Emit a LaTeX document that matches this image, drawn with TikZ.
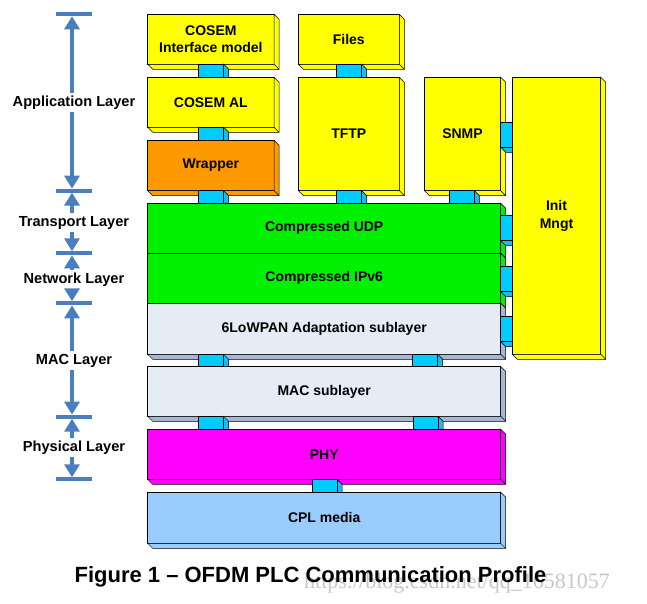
\documentclass[tikz,border=0pt]{standalone}
\usepackage{fontspec}
\setmainfont{Liberation Sans}
\newfontfamily\wmfont{Liberation Serif}
\usetikzlibrary{arrows.meta,calc}
\definecolor{cyel}{HTML}{FFFF00}
\definecolor{corange}{HTML}{FF9900}
\definecolor{cgreen}{HTML}{00F000}
\definecolor{clav}{HTML}{E6ECF6}
\definecolor{clavside}{HTML}{A7B7D3}
\definecolor{cmag}{HTML}{FF00FF}
\definecolor{clblue}{HTML}{99CCFF}
\definecolor{ccyan}{HTML}{00CCFF}
\definecolor{ccyanside}{HTML}{22B8EE}
\definecolor{arrowblue}{RGB}{74,126,190}
\newcommand\boxfont{\bfseries\fontsize{14}{17.3}\selectfont}
% name, x, y, w, h, fill, side fill, text
\newcommand\tdbox[8]{%
  \node[frontbox, fill=#6, minimum width=#4pt, minimum height=#5pt] (#1) at (#2,#3) {#8};
  \filldraw[extr, fill=#7] (#1.north east) -- ++(5,5) -- ($(#1.south east)+(5,5)$)
     -- ($(#1.south west)+(5,5)$) -- (#1.south west) -- (#1.south east) -- cycle;
  \draw[extr] (#1.south east) -- ++(5,5);
}
% vertical connector: x, upper box, lower box
\newcommand\vconn[3]{%
  \filldraw[connside] (#1+25,0 |- #2.south) -- ++(5,5) -- (#1+30,0 |- #3.north) -- (#1+25,0 |- #3.north) -- cycle;
  \filldraw[connf] (#1,0 |- #2.south) rectangle (#1+25,0 |- #3.north);
}
% horizontal connector: y, left box, right box
\newcommand\hconn[3]{%
  \filldraw[connside] (#2.east |- 0,#1+25) -- ++(5,5) -- (#3.west |- 0,#1+30) -- (#3.west |- 0,#1+25) -- cycle;
  \filldraw[connf] (#2.east |- 0,#1) rectangle (#3.west |- 0,#1+25);
}
\begin{document}
\begin{tikzpicture}[x=1pt,y=-1pt,
  frontbox/.style={draw=black, line width=0.8pt, inner sep=0pt, outer sep=0pt,
    anchor=north west, align=center, font=\boxfont},
  extr/.style={draw=black, line width=0.5pt},
  connf/.style={fill=ccyan, draw=black, line width=0.6pt},
  connside/.style={fill=ccyanside, draw=black, line width=0.5pt},
  layerlab/.style={font=\bfseries\fontsize{14.6}{17}\selectfont, anchor=base, inner xsep=0pt, inner ysep=2.5pt},
  larrow/.style={line width=4pt, draw=arrowblue, -{Triangle[width=15pt,length=13pt]}},
  lbar/.style={line width=4pt, draw=arrowblue}]
\useasboundingbox (0,0) rectangle (647,603);

% ---- boxes ----
\tdbox{cim}{147.7}{14.3}{126.3}{50}{cyel}{cyel}{COSEM\\Interface model}
\tdbox{cal}{147.7}{77.3}{126.3}{50}{cyel}{cyel}{COSEM AL}
\tdbox{wrap}{147.7}{140.3}{126.3}{50.3}{corange}{corange}{Wrapper}
\tdbox{files}{298.3}{14.3}{101}{50}{cyel}{cyel}{Files}
\tdbox{tftp}{298.3}{77.3}{101}{113.3}{cyel}{cyel}{TFTP}
\tdbox{snmp}{424.3}{77.3}{76.4}{113.3}{cyel}{cyel}{SNMP}
\tdbox{init}{512.3}{77.3}{88.4}{277}{cyel}{cyel}{Init\\Mngt}
\tdbox{udp}{147.7}{203.3}{353}{50}{cgreen}{cgreen}{Compressed UDP}
\tdbox{ipv6}{147.7}{253.3}{353}{50}{cgreen}{cgreen}{Compressed IPv6}
\tdbox{lowpan}{147.7}{303.3}{353}{51}{clav}{clavside}{6LoWPAN Adaptation sublayer}
\tdbox{mac}{147.7}{366.5}{353}{49.8}{clav}{clavside}{MAC sublayer}
\tdbox{phy}{147.7}{429.3}{353}{50}{cmag}{cmag}{PHY}
\tdbox{cpl}{147.7}{492.3}{353}{51}{clblue}{clblue}{CPL media}

% ---- connectors ----
\vconn{198.7}{cim}{cal}
\vconn{198.7}{cal}{wrap}
\vconn{198.7}{wrap}{udp}
\vconn{336.7}{files}{tftp}
\vconn{336.7}{tftp}{udp}
\vconn{449.3}{snmp}{udp}
\vconn{198.7}{lowpan}{mac}
\vconn{412.7}{lowpan}{mac}
\vconn{198.7}{mac}{phy}
\vconn{413}{mac}{phy}
\vconn{312}{phy}{cpl}
\hconn{122.3}{snmp}{init}
\hconn{215.7}{udp}{init}
\hconn{266.7}{ipv6}{init}
\hconn{316.7}{lowpan}{init}

% ---- layer scale ----
\coordinate (b0) at (74,14.3);
\coordinate (b1) at (74,190.6);
\coordinate (b2) at (74,253.3);
\coordinate (b3) at (74,303.3);
\coordinate (b4) at (74,416.7);
\coordinate (b5) at (74,479.3);
\foreach \b in {b0,b1,b2,b3,b4,b5}{
  \draw[lbar] ([xshift=-18pt]\b) -- ([xshift=18pt]\b);
}
\node[layerlab] (lapp) at (74,106.7) {Application Layer};
\node[layerlab] (ltra) at (74,226) {Transport Layer};
\node[layerlab] (lnet) at (74,283.3) {Network Layer};
\node[layerlab] (lmac) at (74,364) {MAC Layer};
\node[layerlab] (lphy) at (74,451.7) {Physical Layer};

\draw[larrow] (72,0 |- lapp.north) -- ([yshift=-2pt]72,0 |- b0);
\draw[larrow] (72,0 |- lapp.south) -- ([yshift=2pt]72,0 |- b1);
\draw[larrow] (72,0 |- ltra.north) -- ([yshift=-2pt]72,0 |- b1);
\draw[larrow] (72,0 |- ltra.south) -- ([yshift=2pt]72,0 |- b2);
\draw[larrow] (72,0 |- lnet.north) -- ([yshift=-2pt]72,0 |- b2);
\draw[larrow] (72,0 |- lnet.south) -- ([yshift=2pt]72,0 |- b3);
\draw[larrow] (72,0 |- lmac.north) -- ([yshift=-2pt]72,0 |- b3);
\draw[larrow] (72,0 |- lmac.south) -- ([yshift=2pt]72,0 |- b4);
\draw[larrow] (72,0 |- lphy.north) -- ([yshift=-2pt]72,0 |- b4);
\draw[larrow] (72,0 |- lphy.south) -- ([yshift=2pt]72,0 |- b5);

% ---- caption ----
\node[anchor=west, text=black!22, font=\wmfont\fontsize{22}{24}\selectfont, inner sep=0pt] (wm) at (304,583) {https://blog.csdn.net/qq\_16581057};
\node[font=\bfseries\fontsize{22}{24}\selectfont, inner sep=0pt] (cap) at (310.5,577) {Figure 1 – OFDM PLC Communication Profile};
\end{tikzpicture}
\end{document}
